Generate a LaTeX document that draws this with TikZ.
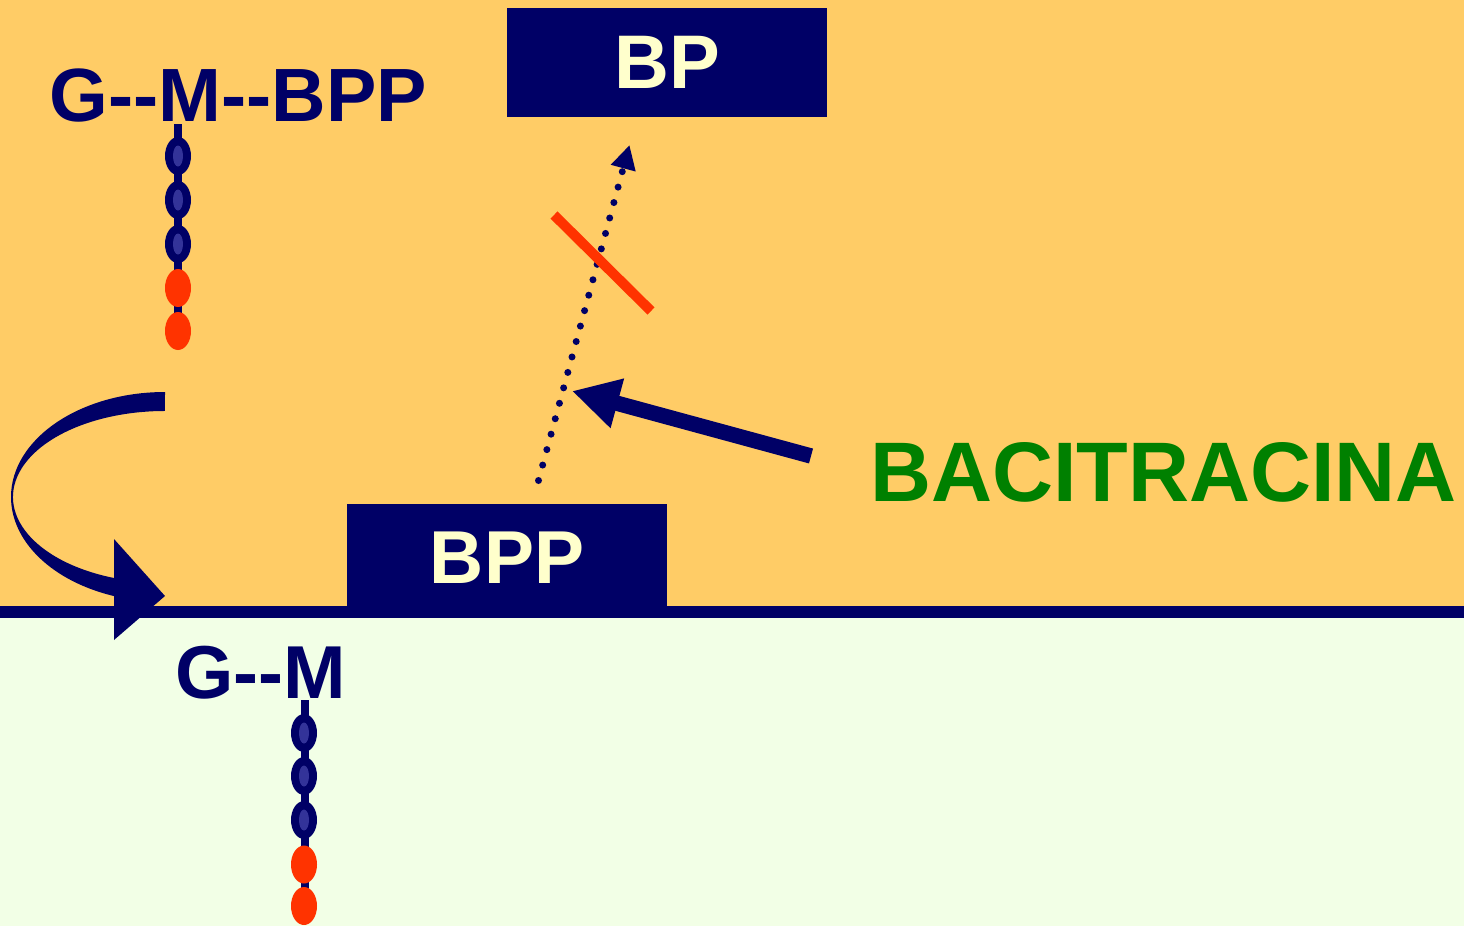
\documentclass[tikz,border=0pt]{standalone}
\usepackage{fontspec}
\setmainfont{Liberation Sans}
\usetikzlibrary{arrows.meta}
\definecolor{navy}{HTML}{000066}
\definecolor{beadin}{HTML}{333399}
\definecolor{bgtop}{HTML}{FFCC66}
\definecolor{bgbot}{HTML}{F2FFE6}
\definecolor{cream}{HTML}{FFFFCC}
\definecolor{redbar}{HTML}{FF3300}
\definecolor{bacigreen}{HTML}{008000}
\tikzset{
  lbl/.style={inner sep=0pt, text=navy, font=\bfseries\fontsize{75}{80}\selectfont},
  boxnode/.style={fill=navy, text=cream, inner sep=0pt, minimum width=320pt, font=\bfseries\fontsize{76}{80}\selectfont},
  chainline/.style={navy, line width=8pt},
}
\newcommand{\hy}{-\kern0pt}
\newcommand{\navybead}[1]{\fill[navy] #1 ellipse[x radius=13, y radius=19];\fill[beadin] #1 ellipse[x radius=5, y radius=10.5];}
\newcommand{\redbead}[1]{\fill[redbar] #1 ellipse[x radius=13, y radius=19];}
\begin{document}
\begin{tikzpicture}[x=1pt,y=-1pt]
\useasboundingbox (0,0) rectangle (1464,926);
% backgrounds
\fill[bgtop] (0,0) rectangle (1464,612);
\fill[bgbot] (0,612) rectangle (1464,926);
\fill[navy] (0,606) rectangle (1464,618);
% boxes
\node[boxnode, minimum height=109pt] (bp) at (667,62) {BP};
\node[boxnode, minimum height=108pt, font=\bfseries\fontsize{75}{80}\selectfont] (bpp) at (507,558) {BPP};
% labels
\node[lbl, anchor=base west, font=\bfseries\fontsize{75.5}{80}\selectfont] (gmbpp) at (49.5,121) {G\hy\hy M\hy\hy BPP};
\node[lbl, anchor=base west] (gm) at (175,698) {G\hy\hy M};
\node[inner sep=0pt, anchor=base west, text=bacigreen, font=\bfseries\fontsize{84.5}{90}\selectfont] (baci) at (870,501) {BACITRACINA};
% upper chain
\draw[chainline] (178,124) -- (178,331);
\navybead{(178,156)}
\navybead{(178,200)}
\navybead{(178,244)}
\redbead{(178,288)}
\redbead{(178,331)}
% lower chain
\draw[chainline] (304.5,700) -- (304.5,906);
\navybead{(304,733)}
\navybead{(304,776)}
\navybead{(304,820)}
\redbead{(304,864.5)}
\redbead{(304,906)}
% curved arrow
\fill[navy] (165,392) arc[start angle=270, end angle=109.3, x radius=154, y radius=105]
  -- (114,578) arc[start angle=109.6, end angle=270, x radius=152, y radius=86] -- cycle;
\fill[navy] (114,539) -- (165,596) -- (114,640) -- cycle;
% dotted arrow
\coordinate (dstart) at (538.5,480.5);
\coordinate (dend) at (629.5,145);
\draw[navy, line width=7pt, line cap=round, dash pattern=on 0pt off 16pt,
  -{Triangle[length=24pt,width=24pt]}] (dstart) -- (dend);
% red bar
\draw[redbar, line width=10pt] (554,215) -- (651,311);
% bacitracina arrow
\coordinate (bstart) at (811,456);
\coordinate (bend) at (572,391);
\draw[navy, line width=15.4pt, -{Triangle[length=47pt,width=48pt]}] (bstart) -- (bend);
\end{tikzpicture}
\end{document}
